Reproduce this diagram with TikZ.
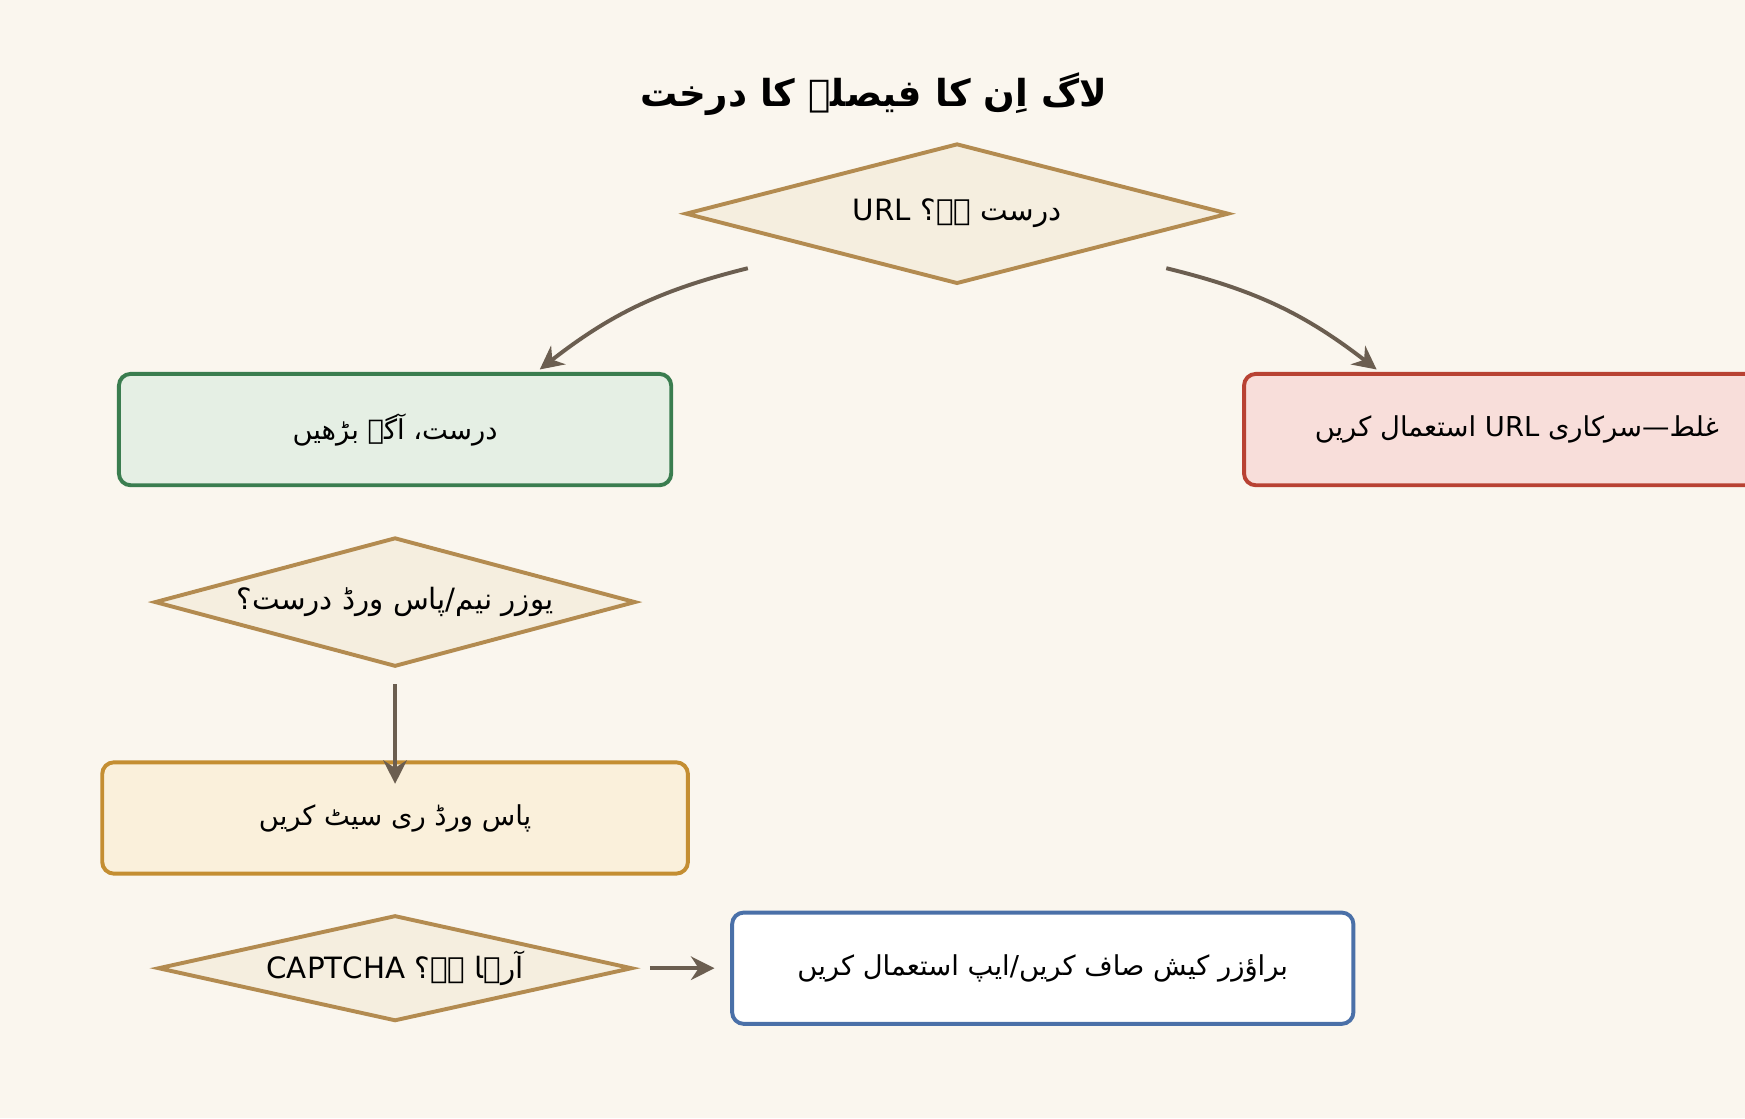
\documentclass[tikz,border=0pt]{standalone}
\usepackage{fontspec}
\setmainfont{DejaVu Sans}
\newfontfamily\urdu[Script=Arabic]{DejaVu Sans}
\usetikzlibrary{shapes.geometric,arrows.meta}
\definecolor{bgc}{HTML}{FAF6EE}
\definecolor{decfill}{HTML}{F5EEDF}
\definecolor{decdraw}{HTML}{B38B50}
\definecolor{okfill}{HTML}{E5EFE4}
\definecolor{okdraw}{HTML}{3A7D4F}
\definecolor{badfill}{HTML}{F8DEDA}
\definecolor{baddraw}{HTML}{B84233}
\definecolor{warnfill}{HTML}{FAF0DB}
\definecolor{warndraw}{HTML}{C48E32}
\definecolor{infodraw}{HTML}{4A70A8}
\definecolor{arrowc}{HTML}{6B5E50}
\newcommand{\ur}[1]{{\urdu\TeXXeTstate=1\beginR #1\endR}}
\tikzset{
  decision/.style={diamond,draw=decdraw,fill=decfill,line width=1pt,inner sep=0pt,font=\fontsize{7.5}{9}\selectfont},
  outcome/.style={rectangle,rounded corners=3pt,line width=1pt,minimum height=1cm,font=\fontsize{7}{9}\selectfont},
  flow/.style={draw=arrowc,line width=1pt,-{Stealth[length=6pt,width=6pt]}}
}
\begin{document}
\begin{tikzpicture}[x=0.01cm,y=-0.01cm]
    \fill[bgc] (0,0) rectangle (1568,1005);
    \useasboundingbox (0,0) rectangle (1568,1005);

        \node (title) at (785,85) {\fontsize{9.5}{12}\selectfont\bfseries\ur{لاگ اِن کا فیصلے کا درخت}};

        % Decisions
        \node[decision,aspect=3.87,minimum width=4.88cm,minimum height=1.26cm] (url) at (860,192) {\ur{درست ہے؟ URL}};
        \node[decision,aspect=3.72,minimum width=4.32cm,minimum height=1.16cm] (login) at (355,541) {\ur{یوزر نیم/پاس ورڈ درست؟}};
        \node[decision,aspect=4.48,minimum width=4.26cm,minimum height=0.95cm] (captcha) at (355,870) {\ur{آرہا ہے؟ CAPTCHA}};

        % Outcomes
        \node[outcome,draw=okdraw,fill=okfill,minimum width=4.96cm] (ok) at (355,386) {\ur{درست، آگے بڑھیں}};
        \begin{scope}
            \clip (0,0) rectangle (1568,1005);
            \node[outcome,draw=baddraw,fill=badfill,minimum width=4.9cm] (bad) at (1363,386) {\ur{غلط—سرکاری URL استعمال کریں}};
        \end{scope}
        \node[outcome,draw=warndraw,fill=warnfill,minimum width=5.26cm] (reset) at (355,735) {\ur{پاس ورڈ ری سیٹ کریں}};
        \node[outcome,draw=infodraw,fill=white,minimum width=5.58cm] (cache) at (937,870) {\ur{براؤزر کیش صاف کریں/ایپ استعمال کریں}};

        \coordinate (urlL) at (672,241);
        \coordinate (urlR) at (1048,241);
        \coordinate (okT) at (485,332);
        \coordinate (badT) at (1237,332);

        % Connectors
        \draw[flow] (urlL) to[bend right=12] (okT);
        \draw[flow] (urlR) to[bend left=12] (badT);
        \draw[flow] ([yshift=-4]login.south) -- ([yshift=-6]reset.north);
        \draw[flow] ([xshift=4]captcha.east) -- ([xshift=-4]cache.west);

    \end{tikzpicture}
\end{document}
